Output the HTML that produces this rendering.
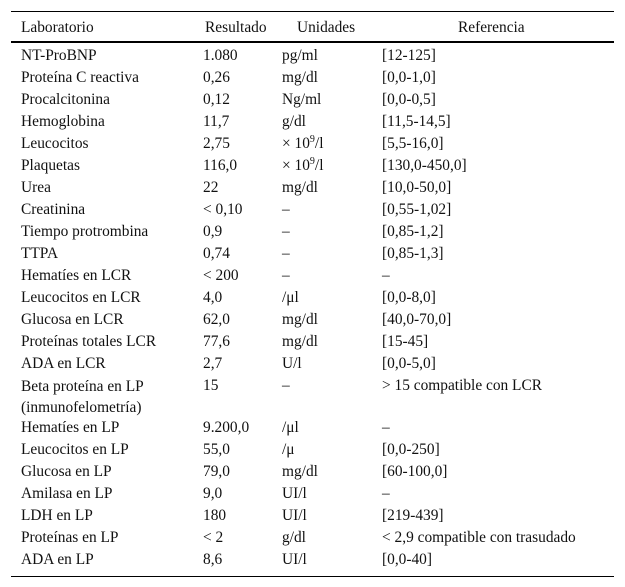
<!DOCTYPE html>
<html><head><meta charset="utf-8"><style>
body{margin:0;background:#fff;width:625px;height:587px;position:relative;font-family:"Liberation Serif",serif;font-size:15.4px;color:#111}
.l{position:absolute;left:11px;width:603px;background:#000}
.t{position:absolute;white-space:nowrap;line-height:16px}
sup{font-size:10px;vertical-align:6px;line-height:0}
</style></head><body>
<div class="l" style="top:11px;height:1px"></div>
<div class="l" style="top:41px;height:2px"></div>
<div class="l" style="top:576px;height:1px"></div>
<div class="t" style="left:21px;top:20px">Laboratorio</div>
<div class="t" style="left:205px;top:20px">Resultado</div>
<div class="t" style="left:297px;top:20px">Unidades</div>
<div class="t" style="left:458px;top:20px">Referencia</div>
<div id="rows"></div>
<script>
const rows=[
["NT-ProBNP","1.080","pg/ml","[12-125]"],
["Proteína C reactiva","0,26","mg/dl","[0,0-1,0]"],
["Procalcitonina","0,12","Ng/ml","[0,0-0,5]"],
["Hemoglobina","11,7","g/dl","[11,5-14,5]"],
["Leucocitos","2,75","× 10<sup>9</sup>/l","[5,5-16,0]"],
["Plaquetas","116,0","× 10<sup>9</sup>/l","[130,0-450,0]"],
["Urea","22","mg/dl","[10,0-50,0]"],
["Creatinina","&lt; 0,10","–","[0,55-1,02]"],
["Tiempo protrombina","0,9","–","[0,85-1,2]"],
["TTPA","0,74","–","[0,85-1,3]"],
["Hematíes en LCR","&lt; 200","–","–"],
["Leucocitos en LCR","4,0","/μl","[0,0-8,0]"],
["Glucosa en LCR","62,0","mg/dl","[40,0-70,0]"],
["Proteínas totales LCR","77,6","mg/dl","[15-45]"],
["ADA en LCR","2,7","U/l","[0,0-5,0]"],
["Beta proteína en LP<br>(inmunofelometría)","15","–","&gt; 15 compatible con LCR"],
["Hematíes en LP","9.200,0","/μl","–"],
["Leucocitos en LP","55,0","/μ","[0,0-250]"],
["Glucosa en LP","79,0","mg/dl","[60-100,0]"],
["Amilasa en LP","9,0","UI/l","–"],
["LDH en LP","180","UI/l","[219-439]"],
["Proteínas en LP","&lt; 2","g/dl","&lt; 2,9 compatible con trasudado"],
["ADA en LP","8,6","UI/l","[0,0-40]"]];
const xs=[21,203,282,382];
const c=document.getElementById('rows');
let y=48;
rows.forEach((r,i)=>{
  r.forEach((v,j)=>{
    const d=document.createElement('div');
    d.className='t';
    d.style.left=xs[j]+'px';d.style.top=y+'px';
    if(j==0&&v.includes('<br>'))d.style.lineHeight='21px',d.style.top=(y-2)+'px';
    d.innerHTML=v;
    
    
    c.appendChild(d);
  });
  y+= r[0].includes('<br>')?42:22;
});
</script>
</body></html>
